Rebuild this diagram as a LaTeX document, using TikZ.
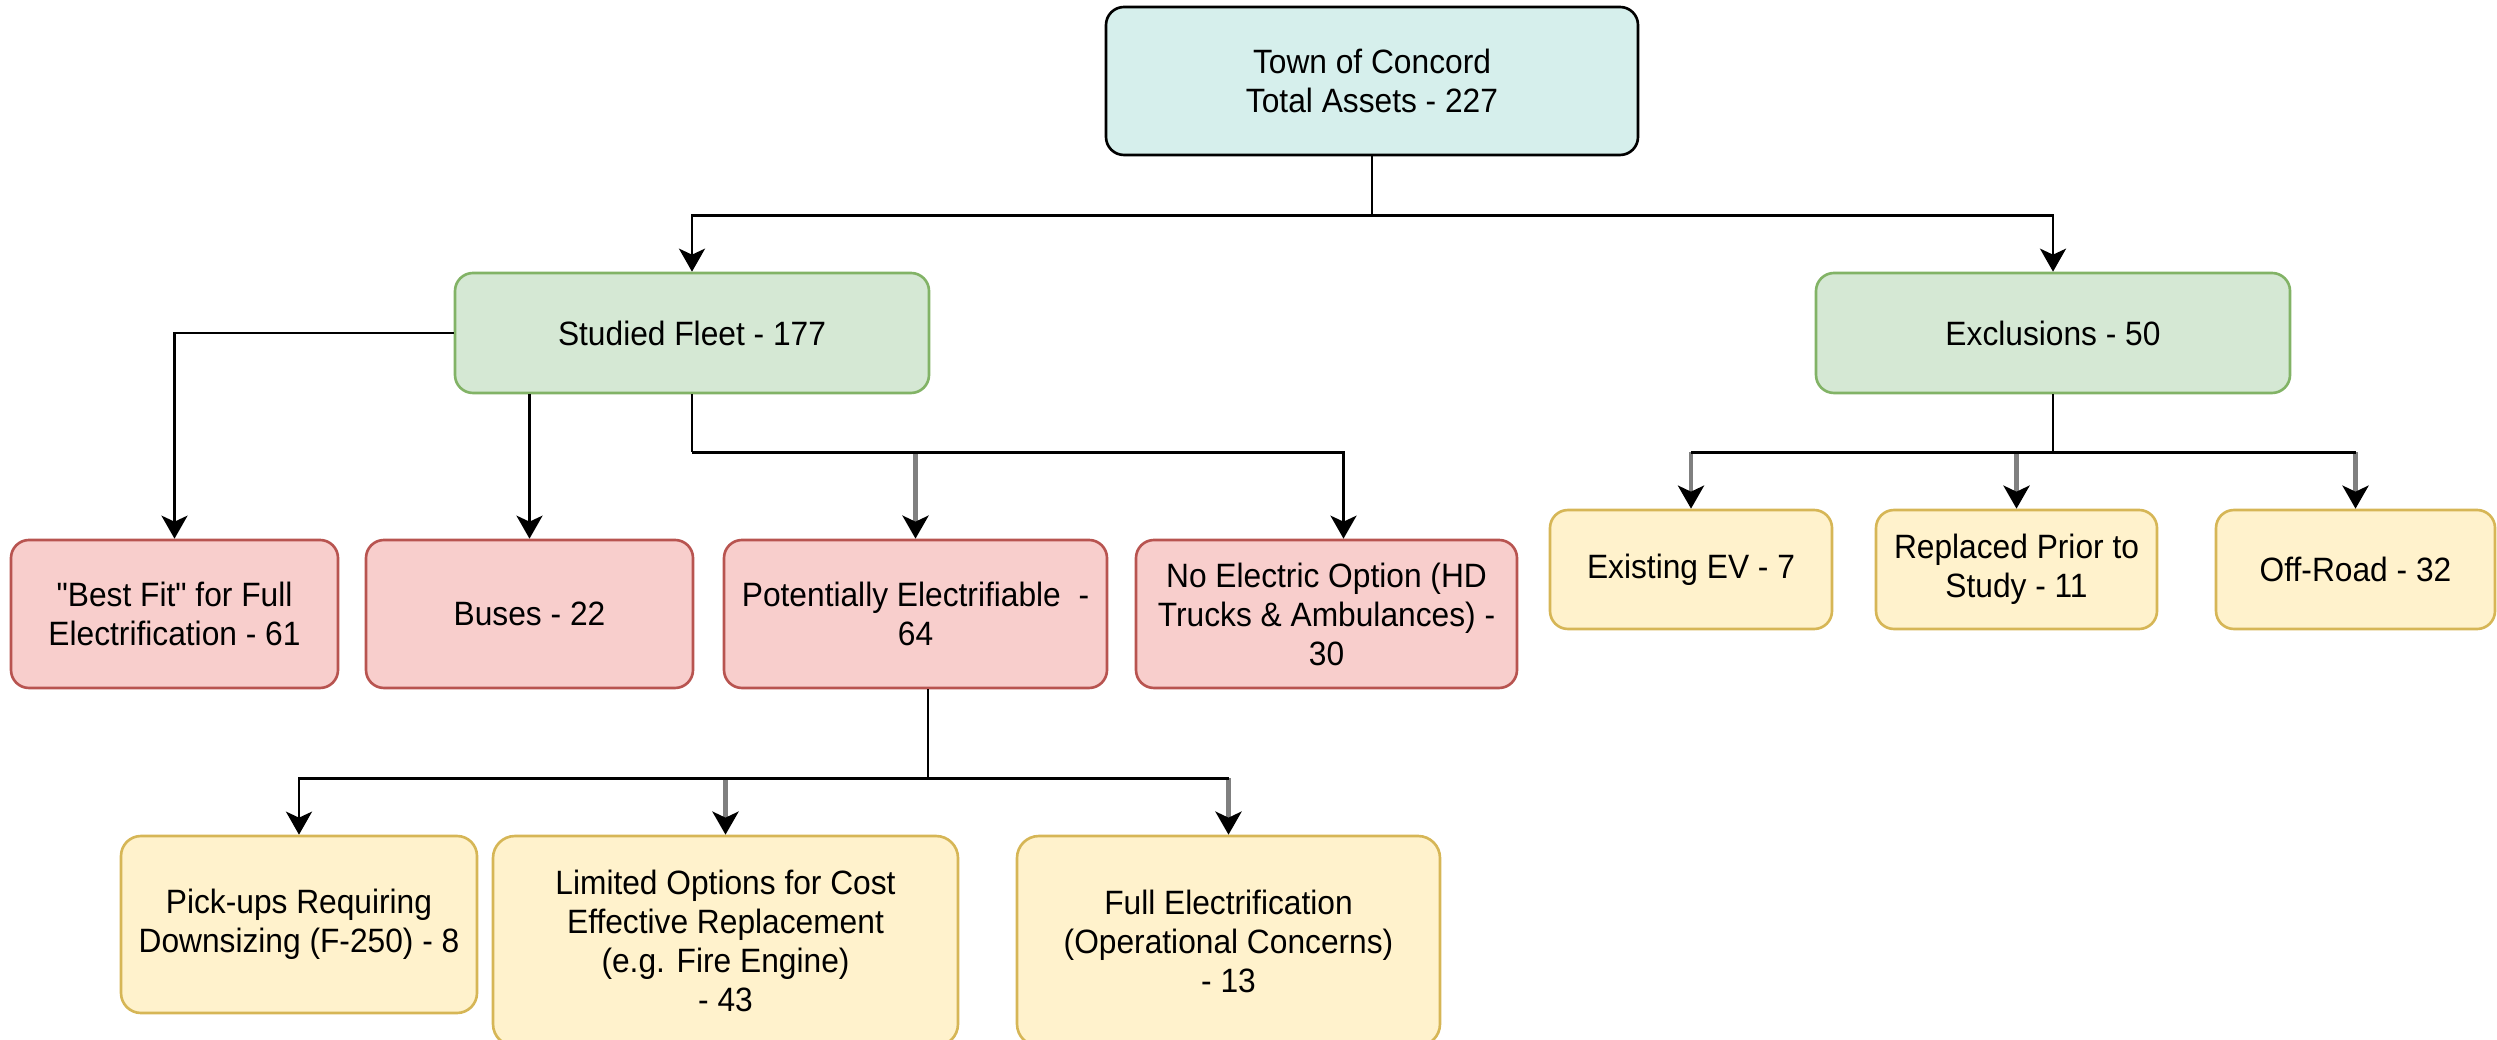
\documentclass[tikz,border=0pt]{standalone}
\usepackage{fontspec}
\setmainfont{Liberation Sans}[FakeStretch=0.94,Ligatures=TeXOff]
\usetikzlibrary{arrows.meta}
\definecolor{topfill}{HTML}{D6EFEC}
\definecolor{grfill}{HTML}{D5E8D4}
\definecolor{grline}{HTML}{82B366}
\definecolor{rdfill}{HTML}{F8CECC}
\definecolor{rdline}{HTML}{B85450}
\definecolor{ylfill}{HTML}{FFF2CC}
\definecolor{ylline}{HTML}{D6B656}
\definecolor{stemgray}{HTML}{808080}
\tikzset{
	box/.style={draw,rounded corners=0.18cm,align=center,inner sep=0pt,line width=0.75pt},
	topbox/.style={box,fill=topfill,draw=black,minimum width=5.32cm,minimum height=1.48cm},
	greenbox/.style={box,fill=grfill,draw=grline,minimum width=4.74cm,minimum height=1.2cm},
	redbox/.style={box,fill=rdfill,draw=rdline,minimum height=1.48cm},
	yellowbox/.style={box,fill=ylfill,draw=ylline},
	graystem/.style={->,draw=stemgray,line width=1.35pt}
}
\begin{document}
\begin{tikzpicture}[font={\fontsize{9.6}{11.1}\selectfont},line width=0.8pt,>={Stealth[length=2.3mm,width=2.6mm,inset=0.6mm,black]}]
	\useasboundingbox (0,0) rectangle (24.97,-10.40);
	\clip (0,0) rectangle (24.97,-10.40);
	% top level
	\node[topbox] (top) at (13.72,-0.81) {Town of Concord\\Total Assets - 227};
	\node[greenbox] (studied) at (6.92,-3.33) {Studied Fleet - 177};
	\node[greenbox] (excl) at (20.53,-3.33) {Exclusions - 50};
	% studied fleet
	\node[redbox,minimum width=3.27cm] (best) at (1.745,-6.14) {"Best Fit" for Full\\Electrification - 61};
	\node[redbox,minimum width=3.27cm] (buses) at (5.295,-6.14) {Buses - 22};
	\node[redbox,minimum width=3.83cm] (potent) at (9.155,-6.14) {Potentially Electrifiable \ -\\64};
	\node[redbox,minimum width=3.81cm] (noelec) at (13.265,-6.14) {No Electric Option (HD\\Trucks \& Ambulances) -\\30};
	% exclusions
	\node[yellowbox,minimum width=2.82cm,minimum height=1.19cm] (existing) at (16.91,-5.695) {Existing EV - 7};
	\node[yellowbox,minimum width=2.81cm,minimum height=1.19cm] (replaced) at (20.165,-5.695) {Replaced Prior to\\Study - 11};
	\node[yellowbox,minimum width=2.79cm,minimum height=1.19cm] (offroad) at (23.555,-5.695) {Off-Road - 32};
	% potentially electrifiable
	\node[yellowbox,minimum width=3.56cm,minimum height=1.77cm,rounded corners=0.2cm] (pickups) at (2.99,-9.245) {Pick-ups Requiring\\Downsizing (F-250) - 8};
	\node[yellowbox,minimum width=4.65cm,minimum height=2.1cm,rounded corners=0.22cm] (limited) at (7.255,-9.41) {Limited Options for Cost\\Effective Replacement\\(e.g. Fire Engine)\\- 43};
	\node[yellowbox,minimum width=4.23cm,minimum height=2.1cm,rounded corners=0.22cm] (fullel) at (12.285,-9.41) {Full Electrification\\(Operational Concerns)\\- 13};
	% connectors
	\draw[->] (top.south) -- ++(0,-0.59) -| (studied.north);
	\draw[->] (top.south) -- ++(0,-0.59) -| (excl.north);
	\draw[->] (studied.west) -| (best.north);
	\draw[->] (studied.south -| buses.north) -- (buses.north);
	\draw (studied.south) -- ++(0,-0.58) coordinate (sbus);
	\draw[graystem] (sbus -| potent.north) -- (potent.north);
	\coordinate (noelecin) at ([xshift=0.17cm]noelec.north);
	\draw[->] (sbus) -| (noelecin);
	\draw (excl.south) -- ++(0,-0.58) coordinate (xbus);
	\draw[graystem] (xbus -| existing.north) -- (existing.north);
	\draw[graystem] (xbus -| replaced.north) -- (replaced.north);
	\draw[graystem] (xbus -| offroad.north) -- (offroad.north);
	\draw (xbus -| existing.north) -- (xbus -| offroad.north);
	\draw ([xshift=0.125cm]potent.south) -- ++(0,-0.89) coordinate (pbus);
	\draw[graystem] (pbus -| limited.north) -- (limited.north);
	\draw[graystem] (pbus -| fullel.north) -- (fullel.north);
	\draw[->] (pbus) -| (pickups.north);
	\draw (pbus) -- (pbus -| fullel.north);
\end{tikzpicture}
\end{document}
